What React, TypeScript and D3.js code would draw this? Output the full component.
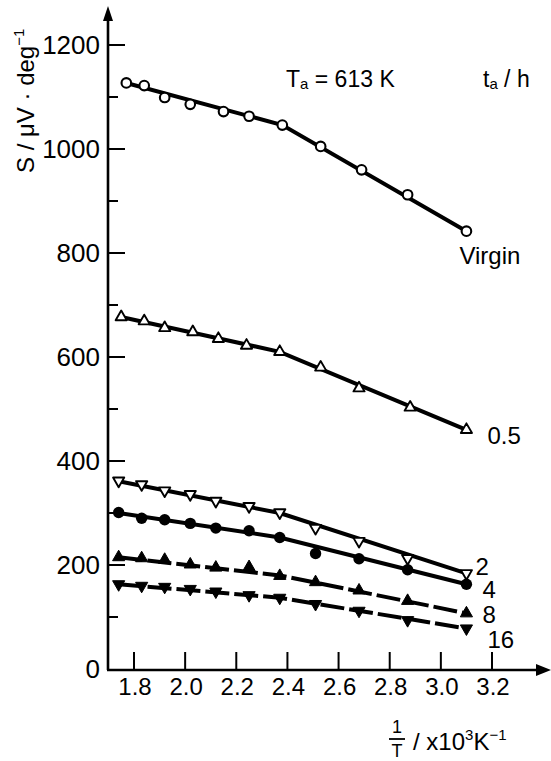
import React from "react";
import * as d3 from "d3";

// x = 1/T (x10^3 K^-1), y = S (µV/deg)
const X_TICKS = [1.8, 2.0, 2.2, 2.4, 2.6, 2.8, 3.0, 3.2];
const X_TICK_LABELS = ["1.8", "2.0", "2.2", "2.4", "2.6", "2.8", "3.0", "3.2"];
const Y_TICKS = [0, 200, 400, 600, 800, 1000, 1200];
const Y_MINOR = [100, 300, 500, 700, 900, 1100];

const X_VIRGIN = [1.77, 1.84, 1.92, 2.02, 2.15, 2.25, 2.38, 2.53, 2.69, 2.87, 3.1];
const X_05 = [1.75, 1.84, 1.92, 2.03, 2.13, 2.24, 2.37, 2.53, 2.68, 2.88, 3.1];
const X_LOW = [1.74, 1.83, 1.92, 2.02, 2.12, 2.25, 2.37, 2.51, 2.68, 2.87, 3.1];

const S_VIRGIN = [1127, 1122, 1099, 1086, 1072, 1063, 1046, 1005, 960, 912, 842];
const S_05 = [677, 669, 656, 648, 635, 622, 610, 580, 540, 503, 460];
const S_2 = [362, 355, 343, 336, 323, 313, 301, 271, 246, 213, 184];
const S_4 = [301, 290, 287, 280, 271, 266, 253, 222, 212, 191, 163];
const S_8 = [215, 213, 210, 201, 195, 196, 179, 167, 151, 131, 107];
const S_16 = [163, 160, 158, 154, 149, 142, 137, 125, 112, 94, 78];

// fitted lines drawn through the points (knots)
const FIT_VIRGIN = [[1.77, 1127], [2.38, 1046], [3.1, 842]];
const FIT_05 = [[1.75, 677], [2.37, 610], [3.1, 460]];
const FIT_2 = [[1.74, 361], [2.37, 300], [3.1, 184]];
const FIT_4 = [[1.74, 300], [2.37, 253], [3.1, 163]];
const FIT_8 = [[1.74, 215], [2.37, 180], [3.1, 107]];
const FIT_16 = [[1.74, 163], [2.37, 137], [3.1, 78]];

const LABELS = ["Virgin", "0.5", "2", "4", "8", "16"];

const series = [
  { x: X_VIRGIN, s: S_VIRGIN, fit: FIT_VIRGIN, marker: "circle", filled: false, dashed: false, lx: -7, ly: 33 },
  { x: X_05, s: S_05, fit: FIT_05, marker: "up", filled: false, dashed: false, lx: 21, ly: 14 },
  { x: X_LOW, s: S_2, fit: FIT_2, marker: "down", filled: false, dashed: false, lx: 9, ly: 2 },
  { x: X_LOW, s: S_4, fit: FIT_4, marker: "circle", filled: true, dashed: false, lx: 16, ly: 14 },
  { x: X_LOW, s: S_8, fit: FIT_8, marker: "up", filled: true, dashed: true, lx: 16, ly: 10 },
  { x: X_LOW, s: S_16, fit: FIT_16, marker: "down", filled: true, dashed: true, lx: 21, ly: 20 },
];

const W = 551;
const H = 761;
const AXIS_X = 108;
const AXIS_Y = 669;
const FONT = "'Liberation Sans', Arial, sans-serif";
const NARROW = "'Liberation Sans Narrow', 'Liberation Sans', Arial, sans-serif";

const x = d3.scaleLinear().domain([1.8, 3.2]).range([134, 492]);
const y = d3.scaleLinear().domain([0, 1200]).range([AXIS_Y, 45]);

const line = d3
  .line<number[]>()
  .x((d) => x(d[0]))
  .y((d) => y(d[1]));

const triUp = d3.symbol(d3.symbolTriangle, 64)();
const triUpOpen = d3.symbol(d3.symbolTriangle, 54)();

function Marker({ cx, cy, kind, filled }) {
  const fill = filled ? "#000" : "#fff";
  if (kind === "circle") {
    return filled ? (
      <circle cx={cx} cy={cy} r={5.7} fill="#000" />
    ) : (
      <circle cx={cx} cy={cy} r={4.8} fill="#fff" stroke="#000" strokeWidth={2.1} />
    );
  }
  const rot = kind === "down" ? 180 : 0;
  return (
    <path
      d={filled ? triUp : triUpOpen}
      transform={`translate(${cx},${cy}) rotate(${rot})`}
      fill={fill}
      stroke="#000"
      strokeWidth={filled ? 1 : 1.9}
      strokeLinejoin="round"
    />
  );
}

export default function App() {
  return (
    <svg
      width={W}
      height={H}
      style={{ position: "absolute", left: 0, top: 0, background: "#fff" }}
    >
      <rect width={W} height={H} fill="#fff" />

      {/* axes */}
      <line x1={AXIS_X} y1={AXIS_Y + 1} x2={AXIS_X} y2={18} stroke="#000" strokeWidth={2.6} />
      <path d={`M${AXIS_X - 5},${21} L${AXIS_X},${6} L${AXIS_X + 5},${21} Z`} fill="#000" />
      <line x1={AXIS_X - 1} y1={AXIS_Y + 1} x2={538} y2={AXIS_Y + 1} stroke="#000" strokeWidth={2.6} />
      <path d={`M${536},${AXIS_Y - 5} L${551},${AXIS_Y + 1} L${536},${AXIS_Y + 7} Z`} fill="#000" />

      {/* y ticks */}
      {Y_TICKS.map((t) => (
        <g key={"y" + t}>
          {t > 0 && (
            <line x1={AXIS_X} x2={AXIS_X + 17} y1={y(t)} y2={y(t)} stroke="#000" strokeWidth={2} />
          )}
          <text
            x={100}
            y={y(t)}
            dy="0.36em"
            textAnchor="end"
            fontFamily={NARROW}
            fontSize={26}
          >
            {t}
          </text>
        </g>
      ))}
      {Y_MINOR.map((t) => (
        <line key={"m" + t} x1={AXIS_X} x2={AXIS_X + 10} y1={y(t)} y2={y(t)} stroke="#000" strokeWidth={2} />
      ))}

      {/* x ticks */}
      {X_TICKS.map((t, i) => (
        <g key={"x" + t}>
          <line x1={x(t)} x2={x(t)} y1={AXIS_Y} y2={AXIS_Y - 17} stroke="#000" strokeWidth={2} />
          <text
            x={x(t) + 1}
            y={695}
            textAnchor="middle"
            fontFamily={NARROW}
            fontSize={24}
          >
            {X_TICK_LABELS[i]}
          </text>
        </g>
      ))}

      {/* lines */}
      {series.map((sr, i) => (
        <path
          key={"l" + i}
          d={line(sr.fit)}
          fill="none"
          stroke="#000"
          strokeWidth={4}
          strokeDasharray={sr.dashed ? "24 5" : undefined}
        />
      ))}

      {/* markers */}
      {series.map((sr, i) =>
        sr.s.map((v, j) => (
          <Marker
            key={`p${i}-${j}`}
            cx={x(sr.x[j])}
            cy={y(v)}
            kind={sr.marker}
            filled={sr.filled}
          />
        ))
      )}

      {/* series labels */}
      {series.map((sr, i) => {
        const n = sr.s.length - 1;
        return (
          <text
            key={"t" + i}
            x={x(sr.x[n]) + sr.lx}
            y={y(sr.s[n]) + sr.ly}
            fontFamily={FONT}
            fontSize={24}
          >
            {LABELS[i]}
          </text>
        );
      })}

      {/* annotations */}
      <text x={286} y={87} fontFamily={FONT} fontSize={23}>
        T<tspan fontSize={15} dy={2}>a</tspan>
        <tspan dy={-2}> = 613 K</tspan>
      </text>
      <text x={483} y={87} fontFamily={FONT} fontSize={23}>
        t<tspan fontSize={15} dy={2}>a</tspan>
        <tspan dy={-2}> / h</tspan>
      </text>

      {/* y axis title */}
      <text
        transform="translate(34,173) rotate(-90)"
        fontFamily={FONT}
        fontSize={24}
      >
        S / μV · deg<tspan fontSize={15} dy={-10}>−1</tspan>
      </text>

      {/* x axis title */}
      <text x={397} y={733} textAnchor="middle" fontFamily={FONT} fontSize={18}>
        1
      </text>
      <line x1={389} x2={405} y1={739} y2={739} stroke="#000" strokeWidth={1.8} />
      <text x={397} y={757} textAnchor="middle" fontFamily={FONT} fontSize={18}>
        T
      </text>
      <text x={413} y={750} fontFamily={FONT} fontSize={24}>
        / x10<tspan fontSize={15} dy={-10}>3</tspan>
        <tspan dy={10}>K</tspan>
        <tspan fontSize={15} dy={-10}>−1</tspan>
      </text>
    </svg>
  );
}
